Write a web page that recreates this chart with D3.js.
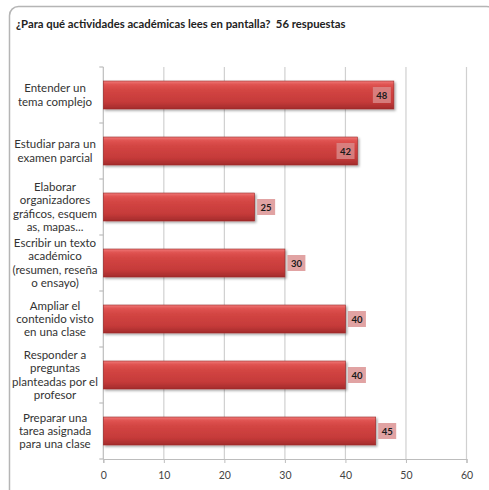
<!DOCTYPE html>
<html><head><meta charset="utf-8">
<script src="https://cdn.jsdelivr.net/npm/d3@7"></script>
<style>html,body{margin:0;padding:0;background:#fff;}svg{display:block;}text{white-space:pre;}</style>
</head><body>
<svg id="chart" width="489" height="490"></svg>
<script>
const title = "¿Para qué actividades académicas lees en pantalla?  56 respuestas";
const categories = [
  "Entender un\ntema complejo",
  "Estudiar para un\nexamen parcial",
  "Elaborar\norganizadores\ngráficos, esquem\nas, mapas...",
  "Escribir un texto\nacadémico\n(resumen, reseña\no ensayo)",
  "Ampliar el\ncontenido visto\nen una clase",
  "Responder a\npreguntas\nplanteadas por el\nprofesor",
  "Preparar una\ntarea asignada\npara una clase"
];
const values = [48, 42, 25, 30, 40, 40, 45];
const xTicks = [0, 10, 20, 30, 40, 50, 60];
const insideLabels = [true, true, false, false, false, false, false];

const svg = d3.select("#chart");
const font = "Lato, 'Open Sans', sans-serif";
const m = {left: 103.3, right: 466.5, top: 67, bottom: 459};

// frame
svg.append("rect").attr("x", 9.5).attr("y", 6.5).attr("width", 486).attr("height", 492)
  .attr("rx", 9).attr("fill", "#fff").attr("stroke", "#b5b5b5").attr("stroke-width", 1.5);

svg.append("text").attr("x", 16).attr("y", 28).attr("font-family", font)
  .attr("font-size", 11.3).attr("font-weight", "bold").attr("fill", "#222")
  .attr("xml:space", "preserve").text(title);

const x = d3.scaleLinear().domain([0, 60]).range([m.left, m.right]);
const y = d3.scaleBand().domain(d3.range(categories.length)).range([m.top, m.bottom]).paddingInner(0.5).paddingOuter(0.25);

const defs = svg.append("defs");
const grad = defs.append("linearGradient").attr("id", "barGrad").attr("x1", 0).attr("y1", 0).attr("x2", 0).attr("y2", 1);
[[0, "#f07a78"], [0.12, "#e05452"], [0.3, "#d44644"], [0.75, "#c53a39"], [1, "#a32c2c"]]
  .forEach(([o, c]) => grad.append("stop").attr("offset", o).attr("stop-color", c));
const flt = defs.append("filter").attr("id", "shadow").attr("x", "-5%").attr("y", "-30%").attr("width", "115%").attr("height", "170%");
flt.append("feDropShadow").attr("dx", 1.5).attr("dy", 1.5).attr("stdDeviation", 1).attr("flood-color", "#000").attr("flood-opacity", 0.35);

// gridlines
svg.append("g").selectAll("line").data(xTicks.slice(1)).join("line")
  .attr("x1", d => x(d)).attr("x2", d => x(d)).attr("y1", m.top).attr("y2", m.bottom)
  .attr("stroke", "#d0d0d0").attr("stroke-width", 1.2);

// x axis
const xAxis = svg.append("g").attr("transform", `translate(0,${m.bottom})`)
  .call(d3.axisBottom(x).tickValues(xTicks).tickSize(4).tickPadding(9));
xAxis.select(".domain").attr("stroke", "#bdbdbd").attr("stroke-width", 1.2);
xAxis.selectAll(".tick line").attr("stroke", "#bdbdbd");
xAxis.selectAll("text").attr("font-family", font).attr("font-size", 10.5).attr("fill", "#444");

// y axis line and ticks at band boundaries
const step = y.step();
const bounds = d3.range(categories.length + 1).map(i => m.top + i * step);
svg.append("line").attr("x1", m.left).attr("x2", m.left).attr("y1", m.top).attr("y2", m.bottom)
  .attr("stroke", "#bdbdbd").attr("stroke-width", 1.2);
svg.append("g").selectAll("line").data(bounds).join("line")
  .attr("x1", m.left - 4).attr("x2", m.left).attr("y1", d => d).attr("y2", d => d)
  .attr("stroke", "#bdbdbd").attr("stroke-width", 1.2);

// category labels
const lh = 13.3;
const labels = svg.append("g");
categories.forEach((c, i) => {
  const lines = c.split("\n");
  const cy = y(i) + y.bandwidth() / 2;
  const t = labels.append("text").attr("font-family", font).attr("font-size", 11.5)
    .attr("fill", "#333").attr("text-anchor", "middle");
  lines.forEach((ln, k) => {
    t.append("tspan").attr("x", 55).attr("y", cy + (k - (lines.length - 1) / 2) * lh + 4).text(ln);
  });
});

// bars
svg.append("g").selectAll("rect").data(values).join("rect")
  .attr("x", x(0)).attr("y", (d, i) => y(i))
  .attr("width", d => x(d) - x(0)).attr("height", y.bandwidth())
  .attr("fill", "url(#barGrad)").attr("stroke", "#9a2a2a").attr("stroke-width", 0.6)
  .attr("filter", "url(#shadow)");

// value labels
const vl = svg.append("g");
values.forEach((v, i) => {
  const bw = 18, bh = 16;
  const cy = y(i) + y.bandwidth() / 2;
  const bx = insideLabels[i] ? x(v) - 3 - bw : x(v) + 2.5;
  vl.append("rect").attr("x", bx).attr("y", cy - bh / 2).attr("width", bw).attr("height", bh)
    .attr("fill", "rgba(217,140,140,0.8)");
  vl.append("text").attr("x", bx + bw / 2).attr("y", cy + 3.5).attr("text-anchor", "middle")
    .attr("font-family", font).attr("font-size", 9.5).attr("font-weight", "bold").attr("fill", "#1a1a1a").text(v);
});
</script>
</body></html>
